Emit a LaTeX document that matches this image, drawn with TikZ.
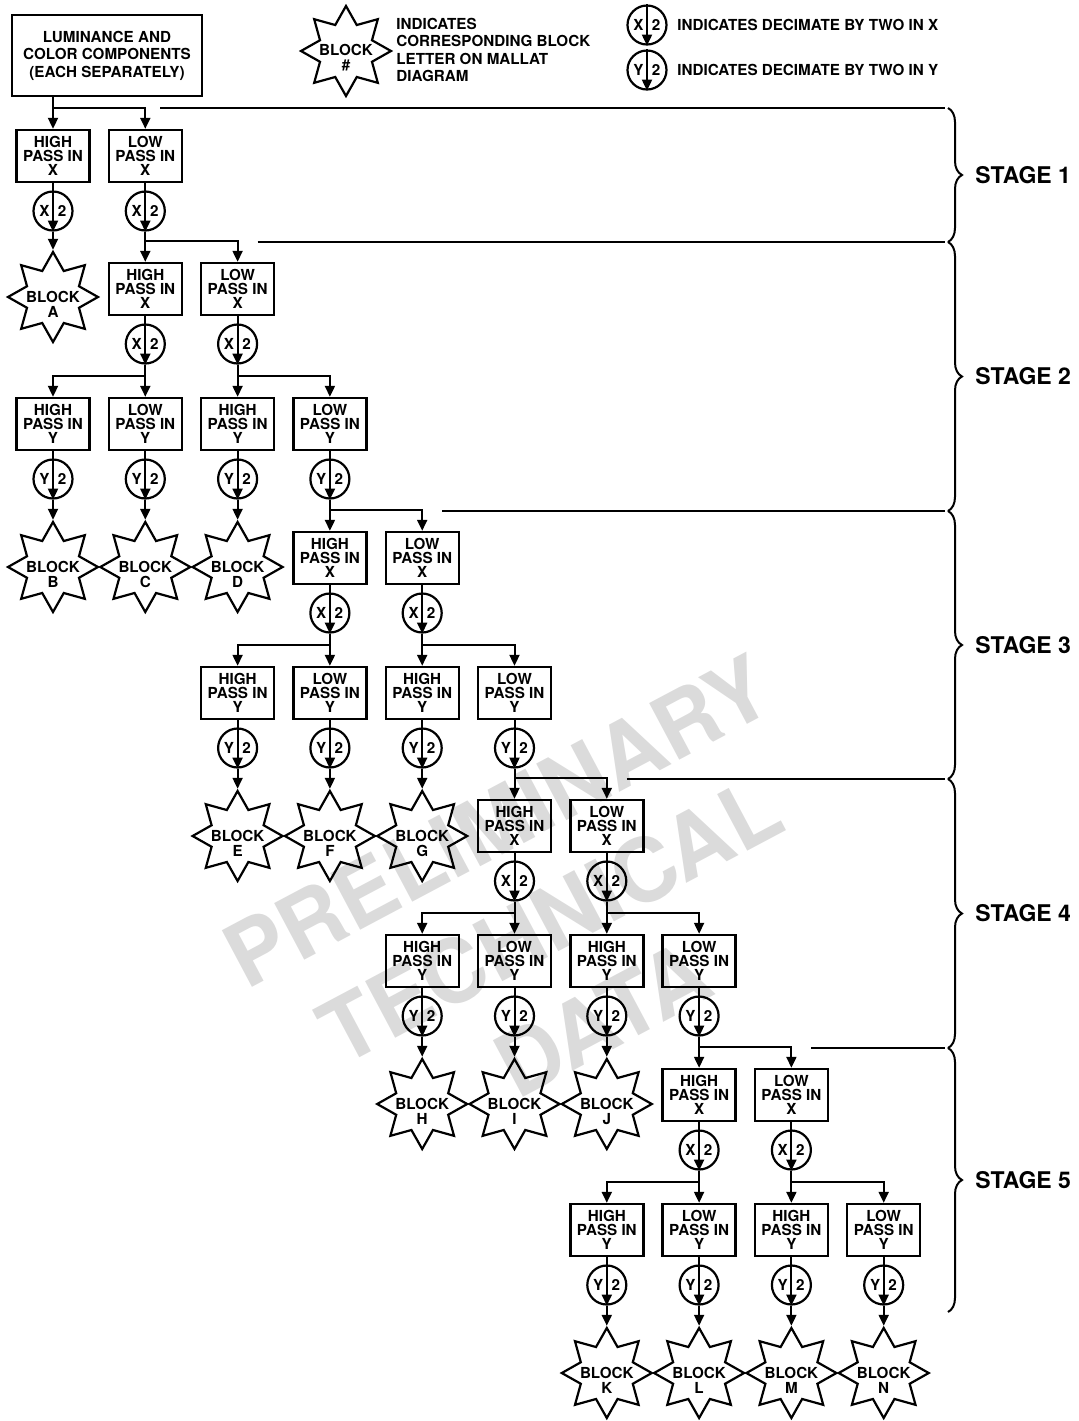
\documentclass[tikz,border=0pt]{standalone}
\usepackage{fontspec}
\setmainfont{TeX Gyre Heros}
\usetikzlibrary{shapes.geometric, decorations.pathreplacing, arrows.meta, calc}

\newcommand{\boxfont}{\fontsize{7.6}{6.9}\selectfont\bfseries}
\newcommand{\starfont}{\fontsize{7.6}{7.5}\selectfont\bfseries}
\newcommand{\legfont}{\fontsize{7.6}{8.7}\selectfont\bfseries}
\newcommand{\stagefont}{\fontsize{11.5}{13}\selectfont\bfseries}

% decimator: name, x, y, letter
\newcommand{\decim}[4]{%
  \node[deci] (#1) at (#2,#3) {};
  \node[lbl] (#1a) at ([xshift=-4.3pt]#1.center) {#4};
  \node[lbl] (#1b) at ([xshift=4.5pt]#1.center) {2};
}
% output block: name, x, y, letter
\newcommand{\block}[4]{%
  \node[blk] (#1) at (#2,#3) {};
  \node[lbl, align=center, font=\starfont] (#1t) at ([yshift=-3.5pt]#1.center) {BLOCK\\#4};
}

\begin{document}
\begin{tikzpicture}[x=0.5pt, y=-0.5pt,
    % filter box
    filt/.style={draw, line width=1.2pt, minimum width=36.5pt, minimum height=26pt,
      inner sep=0pt, align=center, font=\boxfont},
    % decimate-by-two circle
    deci/.style={draw, circle, line width=1.1pt, minimum size=19.5pt, inner sep=0pt},
    lbl/.style={inner sep=0pt, font=\boxfont},
    % output block star
    blk/.style={draw, star, star points=8, star point ratio=1.6, minimum size=45pt,
      inner sep=0pt, line width=1.1pt},
    arr/.style={line width=1pt, -{Triangle[length=5.5pt, width=5pt]}},
    wire/.style={line width=1pt},
    brc/.style={line width=1pt, decorate, decoration={brace, amplitude=7pt}}
  ]
  \useasboundingbox (0,0) rectangle (1078,1421);

  % --- Watermark ---
  \node[rotate=28, text=gray!28, font=\fontsize{44}{56}\selectfont\bfseries,
    align=center, inner sep=0pt] (wmark) at (550,920) {PRELIMINARY\\TECHNICAL\\DATA};

  % --- Legend ---
  \node[draw, line width=1.2pt, minimum width=95pt, minimum height=40.5pt, align=center,
    font=\legfont] (src) at (107,55.5) {LUMINANCE AND\\COLOR COMPONENTS\\(EACH SEPARATELY)};
  \node[blk] (legblk) at (346,51) {};
  \node[lbl, align=center, font=\starfont] (legblkt) at ([yshift=-3.5pt]legblk.center) {BLOCK\\\#};
  \node[anchor=west, align=left, font=\legfont, inner sep=0pt] (legtxt) at (396,50)
    {INDICATES\\CORRESPONDING BLOCK\\LETTER ON MALLAT\\DIAGRAM};
  \decim{legx}{647}{25}{X}
  \decim{legy}{647}{70}{Y}
  \draw[arr] (legx.north) -- (legx.south);
  \draw[arr] (legy.north) -- (legy.south);
  \node[lbl, anchor=west] (legxt) at (677,25) {INDICATES DECIMATE BY TWO IN X};
  \node[lbl, anchor=west] (legyt) at (677,70) {INDICATES DECIMATE BY TWO IN Y};

  % --- Stage 1 ---
  \node[filt] (hx1) at (53,156) {HIGH\\PASS IN\\X};
  \node[filt] (lx1) at (145.3,156) {LOW\\PASS IN\\X};
  \draw[arr] (src.south -| hx1.north) -- (hx1.north);
  \draw[arr] (src.south -| hx1.north) |- ([yshift=10.5pt]lx1.north) -- (lx1.north);
  \draw[wire] (160,108) -- (945,108);
  \decim{dhx1}{53}{211}{X}
  \decim{dlx1}{145.3}{211}{X}
  \draw[arr] (hx1.south) -- (dhx1.south);
  \draw[arr] (lx1.south) -- (dlx1.south);
  \block{blkA}{53}{297}{A}
  \draw[arr] (dhx1.south) -- (blkA.north);
  \coordinate (in2) at (dlx1.south);

  % --- Stages 2 to 5 ---
  \foreach \s/\k/\ya/\bA/\bB/\bC in {2/1/289/B/C/D, 3/3/558/E/F/G, 4/5/826/H/I/J, 5/7/1095/K/L/M}{
    \pgfmathsetmacro\xh{53+92.3*\k}
    \pgfmathsetmacro\xl{\xh+92.3}
    \pgfmathsetmacro\xa{\xh-92.3}
    \pgfmathsetmacro\xd{\xl+92.3}
    \pgfmathsetmacro\yb{\ya-47}
    % filters in X
    \node[filt] (hx\s) at (\xh,\ya) {HIGH\\PASS IN\\X};
    \node[filt] (lx\s) at (\xl,\ya) {LOW\\PASS IN\\X};
    \draw[arr] (in\s) -- (hx\s.north);
    \draw[arr] (in\s) |- ([yshift=10.5pt]lx\s.north) -- (lx\s.north);
    \draw[wire] (\xl+20,\yb) -- (945,\yb);
    \decim{dhx\s}{\xh}{\ya+55}{X}
    \decim{dlx\s}{\xl}{\ya+55}{X}
    \draw[arr] (hx\s.south) -- (dhx\s.south);
    \draw[arr] (lx\s.south) -- (dlx\s.south);
    % filters in Y
    \node[filt] (hh\s) at (\xa,\ya+135) {HIGH\\PASS IN\\Y};
    \node[filt] (hl\s) at (\xh,\ya+135) {LOW\\PASS IN\\Y};
    \node[filt] (lh\s) at (\xl,\ya+135) {HIGH\\PASS IN\\Y};
    \node[filt] (ll\s) at (\xd,\ya+135) {LOW\\PASS IN\\Y};
    \draw[arr] (dhx\s.south) -- (hl\s.north);
    \draw[arr] (dhx\s.south) |- ([yshift=10.5pt]hh\s.north) -- (hh\s.north);
    \draw[arr] (dlx\s.south) -- (lh\s.north);
    \draw[arr] (dlx\s.south) |- ([yshift=10.5pt]ll\s.north) -- (ll\s.north);
    \foreach \f/\xf in {hh/\xa, hl/\xh, lh/\xl, ll/\xd}{
      \decim{d\f\s}{\xf}{\ya+190}{Y}
      \draw[arr] (\f\s.south) -- (d\f\s.south);
    }
    % output blocks
    \foreach \f/\xf/\b in {hh/\xa/\bA, hl/\xh/\bB, lh/\xl/\bC}{
      \block{blk\b}{\xf}{\ya+278}{\b}
      \draw[arr] (d\f\s.south) -- (blk\b.north);
    }
    \ifnum\s=5
      \block{blkN}{\xd}{\ya+278}{N}
      \draw[arr] (dll\s.south) -- (blkN.north);
    \else
      \pgfmathtruncatemacro\nx{\s+1}
      \coordinate (in\nx) at (dll\s.south);
    \fi
  }

  % --- Stage braces ---
  \foreach \s/\ta/\tb in {1/108/242, 2/242/511, 3/511/779, 4/779/1048, 5/1048/1312}{
    \draw[brc] (948,\ta) -- (948,\tb);
    \node[anchor=west, font=\stagefont, inner sep=0pt] (stg\s) at (975,{(\ta+\tb)/2}) {STAGE \s};
  }
\end{tikzpicture}
\end{document}
